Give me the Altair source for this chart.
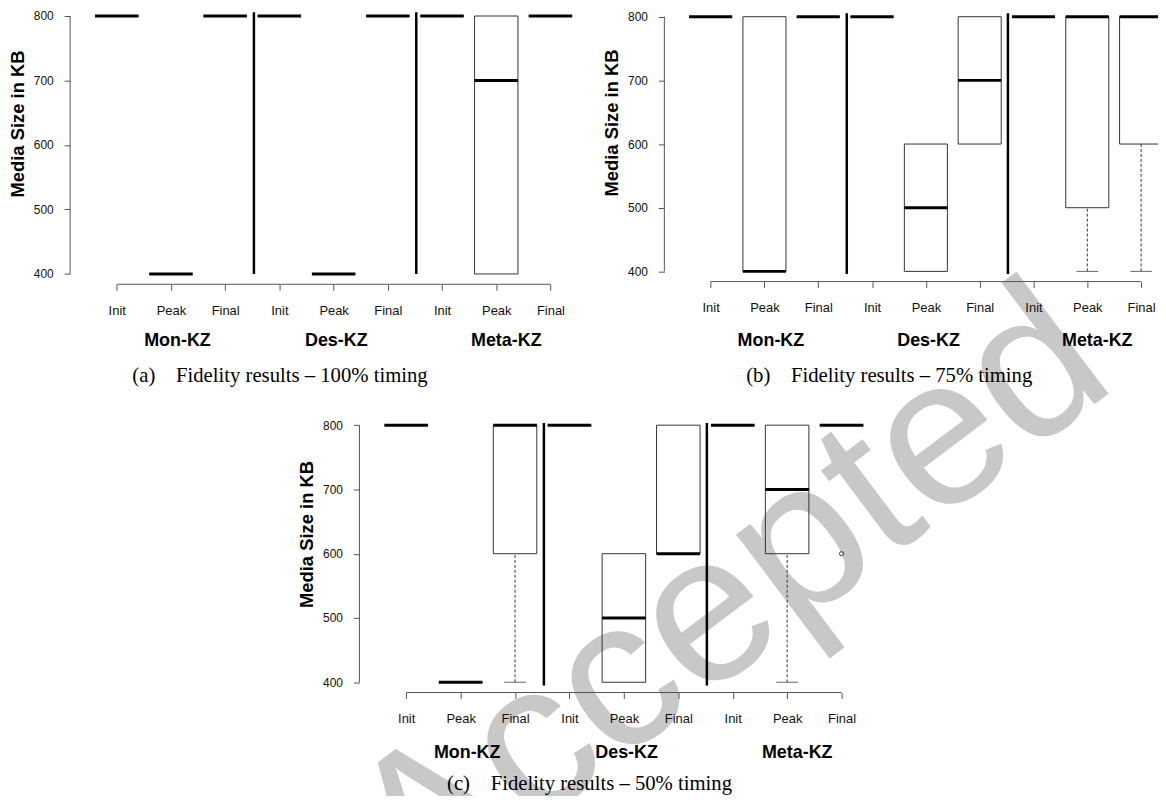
import json
import altair as alt
import pandas as pd

# ---------------- data ----------------
phases = ["Init", "Peak", "Final", "Init", "Peak", "Final", "Init", "Peak", "Final"]
schemes = ["Mon-KZ", "Des-KZ", "Meta-KZ"]
positions = [1, 2, 3, 4, 5, 6, 7, 8, 9]
y_ticks = [400, 500, 600, 700, 800]
y_title = "Media Size in KB"
captions = [
    "(a)\u2003Fidelity results \u2013 100% timing",
    "(b)\u2003Fidelity results \u2013 75% timing",
    "(c)\u2003Fidelity results \u2013 50% timing",
]
watermark_text = "Accepted"

# (a) 100% timing : lower whisker, Q1, median, Q3, upper whisker for each of the 9 boxes
a_low = [800, 400, 800, 800, 400, 800, 800, 400, 800]
a_q1 = [800, 400, 800, 800, 400, 800, 800, 400, 800]
a_med = [800, 400, 800, 800, 400, 800, 800, 700, 800]
a_q3 = [800, 400, 800, 800, 400, 800, 800, 800, 800]
a_high = [800, 400, 800, 800, 400, 800, 800, 800, 800]
a_out_pos = []
a_out_val = []

# (b) 75% timing
b_low = [800, 400, 800, 800, 400, 600, 800, 400, 400]
b_q1 = [800, 400, 800, 800, 400, 600, 800, 500, 600]
b_med = [800, 400, 800, 800, 500, 700, 800, 800, 800]
b_q3 = [800, 800, 800, 800, 600, 800, 800, 800, 800]
b_high = [800, 800, 800, 800, 600, 800, 800, 800, 800]
b_out_pos = []
b_out_val = []

# (c) 50% timing
c_low = [800, 400, 400, 800, 400, 600, 800, 400, 800]
c_q1 = [800, 400, 600, 800, 400, 600, 800, 600, 800]
c_med = [800, 400, 800, 800, 500, 600, 800, 700, 800]
c_q3 = [800, 400, 800, 800, 600, 800, 800, 800, 800]
c_high = [800, 400, 800, 800, 600, 800, 800, 800, 800]
c_out_pos = [9]
c_out_val = [600]

# ---------------- layout / style ----------------
W, H = 1156, 788
M = 8  # page margin
SANS = "Liberation Sans"
SERIF = "Liberation Serif"
AX = "#555555"
BOX = "#333333"
TXT = "#111111"

separators = [3.53, 6.525]
group_label_x = [2.12, 5.05, 8.185]

layouts = [
    dict(x1=117.3, dx=54.5, y800=14.0, unit=0.64825, sep_lo=400, sep_hi=806,
         tx=17.8, ty=122, gy=345.5, cx=133, cy=382),
    dict(x1=714.3, dx=54.09, y800=14.7, unit=0.64, sep_lo=396, sep_hi=805.5,
         tx=615, ty=121, gy=345.5, cx=750, cy=382),
    dict(x1=408.3, dx=54.7, y800=425.3, unit=0.646, sep_lo=395, sep_hi=803.5,
         tx=307.8, ty=534.7, gy=759.5, cx=449.3, cy=792),
]

label_expr = json.dumps([""] + phases) + "[datum.value]"


def make_panel(L, low, q1, med, q3, high, opos, oval, caption):
    dx, unit = L["dx"], L["unit"]
    x0 = 1 - (L["x1"] - M) / dx
    x1 = x0 + W / dx
    ytop = 800 + (L["y800"] - M) / unit
    ybot = ytop - H / unit
    xs = alt.Scale(domain=[x0, x1], nice=False, zero=False)
    ys = alt.Scale(domain=[ybot, ytop], nice=False, zero=False)
    yaxis_px = (0.14 - x0) * dx
    xaxis_px = (ytop - 384) * unit

    box = pd.DataFrame(dict(pos=positions, phase=phases, low=low, q1=q1,
                            med=med, q3=q3, high=high))

    frame = pd.DataFrame({"x": [0.14, 1], "x2": [0.14, 9],
                          "y": [400, 384], "y2": [800, 384]})
    axes = alt.Chart(frame).mark_rule(color=AX, strokeWidth=1).encode(
        x=alt.X("x:Q", scale=xs, axis=alt.Axis(
            orient="bottom", offset=xaxis_px - H, values=positions,
            labelExpr=label_expr, domain=False, grid=False, ticks=True,
            tickSize=6, tickColor=AX, tickWidth=1, labelFont=SANS,
            labelFontSize=13, labelColor=TXT, labelBaseline="alphabetic",
            labelPadding=24.5, labelFlush=False, labelOverlap=False,
            zindex=2, title=None)),
        x2="x2:Q",
        y=alt.Y("y:Q", scale=ys, axis=alt.Axis(
            orient="left", offset=-yaxis_px, values=y_ticks, domain=False,
            grid=False, ticks=True, tickSize=6, tickColor=AX, tickWidth=1,
            labelFont=SANS, labelFontSize=12, labelColor=TXT, labelPadding=11,
            labelFlush=False, labelOverlap=False, zindex=2,
            title=y_title, titleFont=SANS, titleFontSize=18.5,
            titleFontWeight="bold", titleColor="#000000", titleAngle=270,
            titleAlign="center", titleBaseline="middle",
            titleX=L["tx"] - M - yaxis_px, titleY=L["ty"] - M)),
        y2="y2:Q",
    )

    sep = pd.DataFrame({"x": separators, "lo": [L["sep_lo"]] * 2, "hi": [L["sep_hi"]] * 2})
    seps = alt.Chart(sep).mark_rule(color="#000000", strokeWidth=2.5).encode(
        x=alt.X("x:Q", scale=xs, axis=None),
        y=alt.Y("lo:Q", scale=ys, axis=None), y2="hi:Q")

    base = alt.Chart(box).transform_calculate(
        xl="datum.pos - 0.4", xr="datum.pos + 0.4",
        sl="datum.pos - 0.2", sr="datum.pos + 0.2")

    rects = base.mark_rect(fill="transparent", stroke=BOX, strokeWidth=1).encode(
        x=alt.X("xl:Q", scale=xs, axis=None), x2="xr:Q",
        y=alt.Y("q1:Q", scale=ys, axis=None), y2="q3:Q")

    lw = base.transform_filter("datum.low < datum.q1").mark_rule(
        color=BOX, strokeWidth=1, strokeDash=[3, 2]).encode(
        x=alt.X("pos:Q", scale=xs, axis=None),
        y=alt.Y("low:Q", scale=ys, axis=None), y2="q1:Q")
    lcap = base.transform_filter("datum.low < datum.q1").mark_rule(
        color="#666666", strokeWidth=1).encode(
        x=alt.X("sl:Q", scale=xs, axis=None), x2="sr:Q",
        y=alt.Y("low:Q", scale=ys, axis=None))
    uw = base.transform_filter("datum.high > datum.q3").mark_rule(
        color=BOX, strokeWidth=1, strokeDash=[3, 2]).encode(
        x=alt.X("pos:Q", scale=xs, axis=None),
        y=alt.Y("q3:Q", scale=ys, axis=None), y2="high:Q")
    ucap = base.transform_filter("datum.high > datum.q3").mark_rule(
        color="#666666", strokeWidth=1).encode(
        x=alt.X("sl:Q", scale=xs, axis=None), x2="sr:Q",
        y=alt.Y("high:Q", scale=ys, axis=None))

    meds = base.mark_rule(color="#000000", strokeWidth=3).encode(
        x=alt.X("xl:Q", scale=xs, axis=None), x2="xr:Q",
        y=alt.Y("med:Q", scale=ys, axis=None))

    layers = [axes, seps, rects, lw, lcap, uw, ucap, meds]

    if opos:
        out = pd.DataFrame({"pos": opos, "val": oval})
        layers.append(alt.Chart(out).mark_point(
            shape="circle", filled=False, size=18, color="#000000", strokeWidth=1).encode(
            x=alt.X("pos:Q", scale=xs, axis=None),
            y=alt.Y("val:Q", scale=ys, axis=None)))

    grp = pd.DataFrame({"name": schemes, "pos": group_label_x})
    layers.append(alt.Chart(grp).mark_text(
        font=SANS, fontSize=18, fontWeight="bold", color="#000000",
        align="center", baseline="alphabetic").encode(
        x=alt.X("pos:Q", scale=xs, axis=None),
        y=alt.value(L["gy"] - M), text="name:N"))

    cap = pd.DataFrame({"t": [caption]})
    layers.append(alt.Chart(cap).mark_text(
        font=SERIF, fontSize=20.8, color="#000000", align="left",
        baseline="alphabetic").encode(
        x=alt.value(L["cx"] - M), y=alt.value(L["cy"] - M), text="t:N"))

    return layers


la = make_panel(layouts[0], a_low, a_q1, a_med, a_q3, a_high, a_out_pos, a_out_val, captions[0])
lb = make_panel(layouts[1], b_low, b_q1, b_med, b_q3, b_high, b_out_pos, b_out_val, captions[1])
lc = make_panel(layouts[2], c_low, c_q1, c_med, c_q3, c_high, c_out_pos, c_out_val, captions[2])

wm = alt.Chart(pd.DataFrame({"t": [watermark_text]})).mark_text(
    font=SANS, fontSize=212, color="#c8c8c8", angle=323, align="right",
    baseline="alphabetic").encode(
    x=alt.value(1117.5), y=alt.value(377), text="t:N")

chart = alt.layer(wm, *la, *lb, *lc).resolve_scale(
    x="independent", y="independent"
).properties(
    width=W, height=H, padding=0,
    autosize=alt.AutoSizeParams(type="none"),
).configure_view(strokeWidth=0)

chart.save("out.html", embed_options={"renderer": "svg", "actions": False})
